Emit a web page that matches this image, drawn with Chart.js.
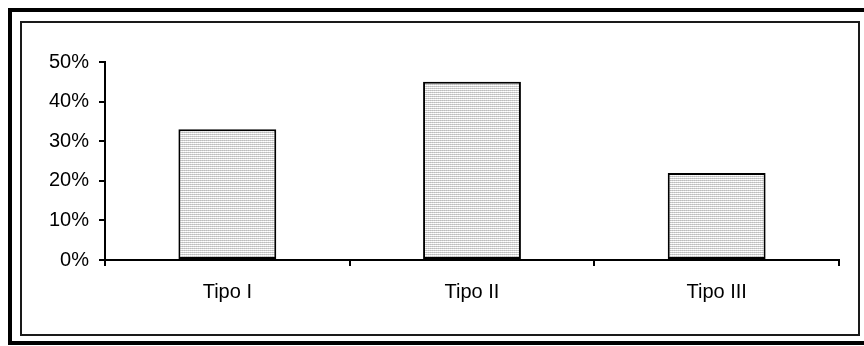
<!DOCTYPE html>
<html>
<head>
<meta charset="utf-8">
<script src="https://cdn.jsdelivr.net/npm/chart.js@4/dist/chart.umd.min.js"></script>
<style>
  html, body { margin: 0; padding: 0; background: #fff; }
  #wrap { width: 864px; height: 346px; position: relative; }
</style>
</head>
<body>
<div id="wrap"><canvas id="c" width="864" height="346"></canvas></div>
<script>
const categories = ["Tipo I", "Tipo II", "Tipo III"];
const values = [33, 45, 22];
const yTickValues = [0, 10, 20, 30, 40, 50];
const yTickLabels = ["0%", "10%", "20%", "30%", "40%", "50%"];

function makePattern() {
  const p = document.createElement('canvas');
  p.width = 2; p.height = 2;
  const g = p.getContext('2d');
  g.fillStyle = '#ffffff'; g.fillRect(0, 0, 2, 2);
  g.fillStyle = '#bcbcbc'; g.fillRect(0, 0, 1, 1);
  g.fillStyle = '#cccccc'; g.fillRect(1, 0, 1, 1);
  g.fillStyle = '#f4f4f4'; g.fillRect(0, 1, 1, 1);
  return document.getElementById('c').getContext('2d').createPattern(p, 'repeat');
}

const framePlugin = {
  id: 'frame',
  beforeDraw(chart) {
    const ctx = chart.ctx;
    ctx.save();
    ctx.fillStyle = '#fff';
    ctx.fillRect(0, 0, chart.width, chart.height);
    ctx.strokeStyle = '#000';
    ctx.lineWidth = 4;
    ctx.strokeRect(10, 10, 870, 333);
    ctx.strokeStyle = '#1a1a1a';
    ctx.lineWidth = 2;
    ctx.strokeRect(21, 22, 838, 313);
    ctx.restore();
  }
};

const font = { family: "'Liberation Sans', Arial, sans-serif", size: 20 };

new Chart(document.getElementById('c'), {
  type: 'bar',
  data: {
    labels: categories,
    datasets: [{
      data: values,
      backgroundColor: makePattern(),
      borderColor: '#000',
      borderWidth: 2,
      borderSkipped: false,
      barPercentage: 0.4,
      categoryPercentage: 1.0
    }]
  },
  options: {
    responsive: false,
    animation: false,
    devicePixelRatio: 1,
    layout: { padding: { left: 0, top: 62, right: 25, bottom: 0 } },
    plugins: { legend: { display: false }, tooltip: { enabled: false } },
    scales: {
      x: {
        grid: { display: true, offset: true, drawOnChartArea: false, drawTicks: true, tickLength: 6, color: '#000', lineWidth: 2 },
        border: { display: true, color: '#000', width: 2 },
        ticks: { color: '#000', font: font, padding: 14, maxRotation: 0 },
        afterFit(scale) { scale.height = 86; }
      },
      y: {
        min: 0, max: 50,
        afterBuildTicks(scale) { scale.ticks = yTickValues.map(v => ({ value: v })); },
        grid: { display: true, drawOnChartArea: false, drawTicks: true, tickLength: 6, color: '#000', lineWidth: 2 },
        border: { display: true, color: '#000', width: 2 },
        ticks: {
          color: '#000', font: font, padding: 10,
          callback(v) { const i = yTickValues.indexOf(v); return i >= 0 ? yTickLabels[i] : ''; }
        },
        afterFit(scale) { scale.width = 105; }
      }
    }
  },
  plugins: [framePlugin]
});
</script>
</body>
</html>
